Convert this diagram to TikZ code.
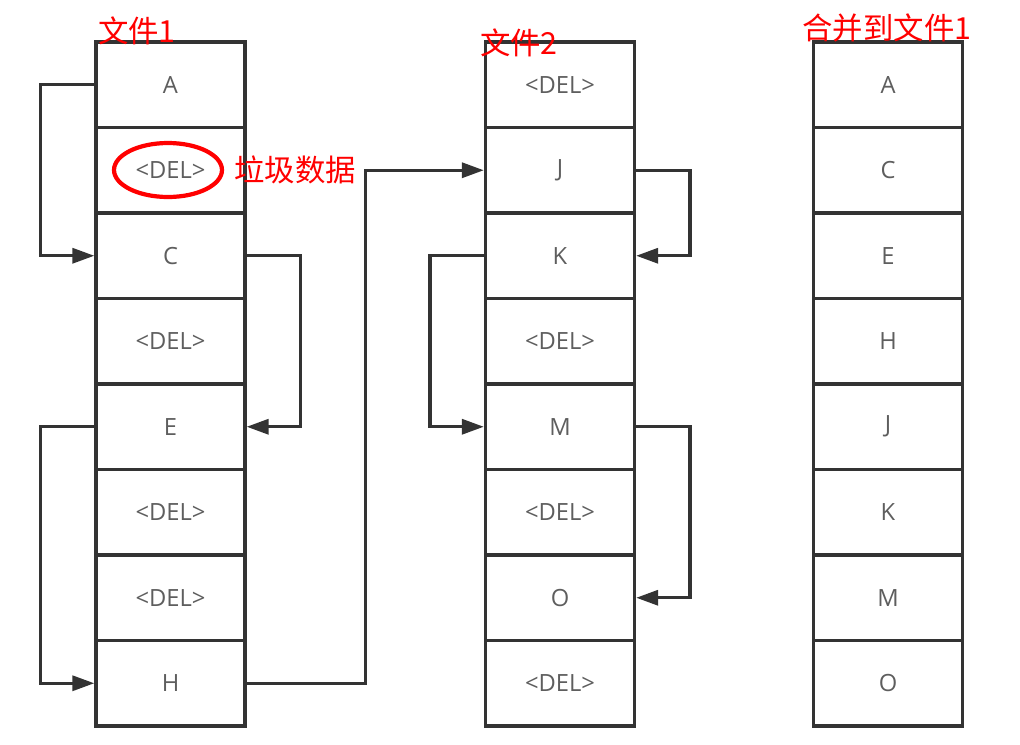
\documentclass[tikz,border=0pt]{standalone}
\usepackage{fontspec}
\setmainfont{Open Sans}
\newfontfamily\cjk{Noto Sans CJK SC}
\usetikzlibrary{arrows.meta,positioning,shapes.geometric}
\definecolor{boxline}{HTML}{333333}
\definecolor{celltext}{HTML}{5E5E5E}

\begin{document}
\begin{tikzpicture}[x=0.02cm, y=-0.02cm,
    cell/.style={rectangle, draw=boxline, line width=1.9pt, fill=white,
        minimum width=2.98cm, minimum height=1.71cm, inner sep=0pt,
        text=celltext, font=\fontsize{13.5}{16}\selectfont},
    link/.style={draw=boxline, line width=1.9pt,
        -{Triangle[length=0.44cm, width=0.3cm]}},
    note/.style={text=red, inner sep=0pt, font=\cjk\fontsize{17.3}{20}\selectfont},
    junk/.style={ellipse, draw=red, line width=2.4pt, inner sep=0pt,
        minimum width=2.16cm, minimum height=1.08cm}
]
    \useasboundingbox (0,0) rectangle (1020,744);
    % file 1
    \node[cell] (a1) at (170.5,84.75) {A};
    \node[cell] (a2) at (170.5,170.25) {<DEL>};
    \node[cell] (a3) at (170.5,255.75) {C};
    \node[cell] (a4) at (170.5,341.25) {<DEL>};
    \node[cell] (a5) at (170.5,426.75) {E};
    \node[cell] (a6) at (170.5,512.25) {<DEL>};
    \node[cell] (a7) at (170.5,597.75) {<DEL>};
    \node[cell] (a8) at (170.5,683.25) {H};
    % file 2
    \node[cell] (b1) at (560,84.75) {<DEL>};
    \node[cell] (b2) at (560,170.25) {J};
    \node[cell] (b3) at (560,255.75) {K};
    \node[cell] (b4) at (560,341.25) {<DEL>};
    \node[cell] (b5) at (560,426.75) {M};
    \node[cell] (b6) at (560,512.25) {<DEL>};
    \node[cell] (b7) at (560,597.75) {O};
    \node[cell] (b8) at (560,683.25) {<DEL>};
    % merged
    \node[cell] (c1) at (888,84.75) {A};
    \node[cell] (c2) at (888,170.25) {C};
    \node[cell] (c3) at (888,255.75) {E};
    \node[cell] (c4) at (888,341.25) {H};
    \node[cell] (c5) at (888,426.75) {J};
    \node[cell] (c6) at (888,512.25) {K};
    \node[cell] (c7) at (888,597.75) {M};
    \node[cell] (c8) at (888,683.25) {O};
    % titles
    \node[note] (t1) at (137,31) {文件1};
    \node[note] (t2) at (519,43) {文件2};
    \node[note] (t3) at (887,28) {合并到文件1};
    % garbage mark
    \node[junk] (bad) at (168,170) {};
    \node[note, right=0.2cm of bad] (badtext) {垃圾数据};
    % links
    \draw[link] (a1.west) -- ++(-54,0) |- (a3.west);
    \draw[link] (a3.east) -- ++(54,0) |- (a5.east);
    \draw[link] (a5.west) -- ++(-54,0) |- (a8.west);
    \draw[link] (a8.east) -- ++(119,0) |- (b2.west);
    \draw[link] (b2.east) -- ++(54,0) |- (b3.east);
    \draw[link] (b3.west) -- ++(-54,0) |- (b5.west);
    \draw[link] (b5.east) -- ++(54,0) |- (b7.east);
\end{tikzpicture}
\end{document}
